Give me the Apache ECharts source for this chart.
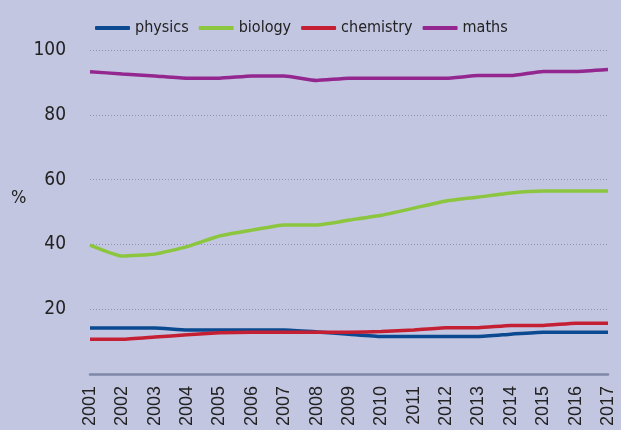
<!DOCTYPE html>
<html lang="en">
<head>
    <meta charset="UTF-8">
    <title>Subjects</title>
    <script src="https://cdn.jsdelivr.net/npm/echarts@6/dist/echarts.min.js"></script>
    <style>
        html, body { margin: 0; padding: 0; }
        #container {
            width: 621px;
            height: 430px;
            background-color: #c2c6e1;
        }
    </style>
</head>
<body>
<div id='container'></div>
<script type="text/javascript">

    var years = ['2001', '2002', '2003', '2004', '2005', '2006', '2007', '2008', '2009',
        '2010', '2011', '2012', '2013', '2014', '2015', '2016', '2017'];
    var physics = [14.2, 14.2, 14.2, 13.6, 13.6, 13.6, 13.6, 13.0, 12.3, 11.6, 11.6, 11.6, 11.6, 12.3, 12.9, 12.9, 12.9];
    var biology = [39.8, 36.4, 37.0, 39.3, 42.6, 44.4, 46.0, 46.0, 47.5, 49.0, 51.2, 53.4, 54.6, 55.9, 56.5, 56.5, 56.5];
    var chemistry = [10.7, 10.7, 11.4, 12.1, 12.7, 12.9, 12.9, 12.9, 12.9, 13.1, 13.6, 14.3, 14.3, 15.0, 15.0, 15.7, 15.7];
    var maths = [93.3, 92.6, 92.0, 91.3, 91.3, 92.0, 92.0, 90.6, 91.3, 91.3, 91.3, 91.3, 92.1, 92.1, 93.4, 93.4, 94.0];
    var yTicks = [20, 40, 60, 80, 100];

    var narrow = '"Liberation Sans Narrow", "DejaVu Sans Condensed", sans-serif';

    var myChart = echarts.init(document.getElementById('container'));

    function line(name, data, color) {
        return {
            name: name,
            type: 'line',
            data: data,
            symbol: 'none',
            smooth: 0.15,
            lineStyle: {color: color, width: 3.5},
            itemStyle: {color: color}
        };
    }

    myChart.setOption({
        animation: false,
        textStyle: {fontFamily: narrow},
        // unit label sits a bit above the middle of the axis
        graphic: [{
            type: 'text',
            left: 11,
            top: 189,
            style: {text: '%', fontSize: 18, fill: '#222', fontFamily: narrow}
        }],
        legend: {
            top: 15,
            left: 90,
            itemWidth: 35,
            itemHeight: 4,
            itemGap: 10,
            icon: 'roundRect',
            textStyle: {fontSize: 16, color: '#222', fontFamily: narrow},
            data: ['physics', 'biology', 'chemistry', 'maths']
        },
        grid: {left: 90, right: 13, top: 50, bottom: 56},
        xAxis: {
            type: 'category',
            data: years,
            boundaryGap: false,
            axisLine: {lineStyle: {color: '#8088a8', width: 2.5}},
            axisTick: {show: false},
            axisLabel: {
                rotate: 90,
                fontSize: 18,
                color: '#222',
                fontFamily: '"Liberation Sans", Arial, sans-serif',
                margin: 12,
                interval: 0
            }
        },
        yAxis: {
            type: 'value',
            min: 0,
            max: 100,
            interval: 20,
            axisLine: {show: false},
            axisTick: {show: false},
            axisLabel: {
                fontSize: 19,
                color: '#222',
                margin: 24,
                formatter: function (v) {
                    return yTicks.indexOf(v) >= 0 ? String(v) : '';
                }
            },
            splitLine: {
                lineStyle: {color: '#8f93b0', type: [1, 2], width: 1},
                showMinLine: false
            }
        },
        series: [
            line('physics', physics, '#0b4a90'),
            line('biology', biology, '#8cc63f'),
            line('chemistry', chemistry, '#c51f33'),
            line('maths', maths, '#93278f')
        ]
    });
</script>
</body>
</html>
